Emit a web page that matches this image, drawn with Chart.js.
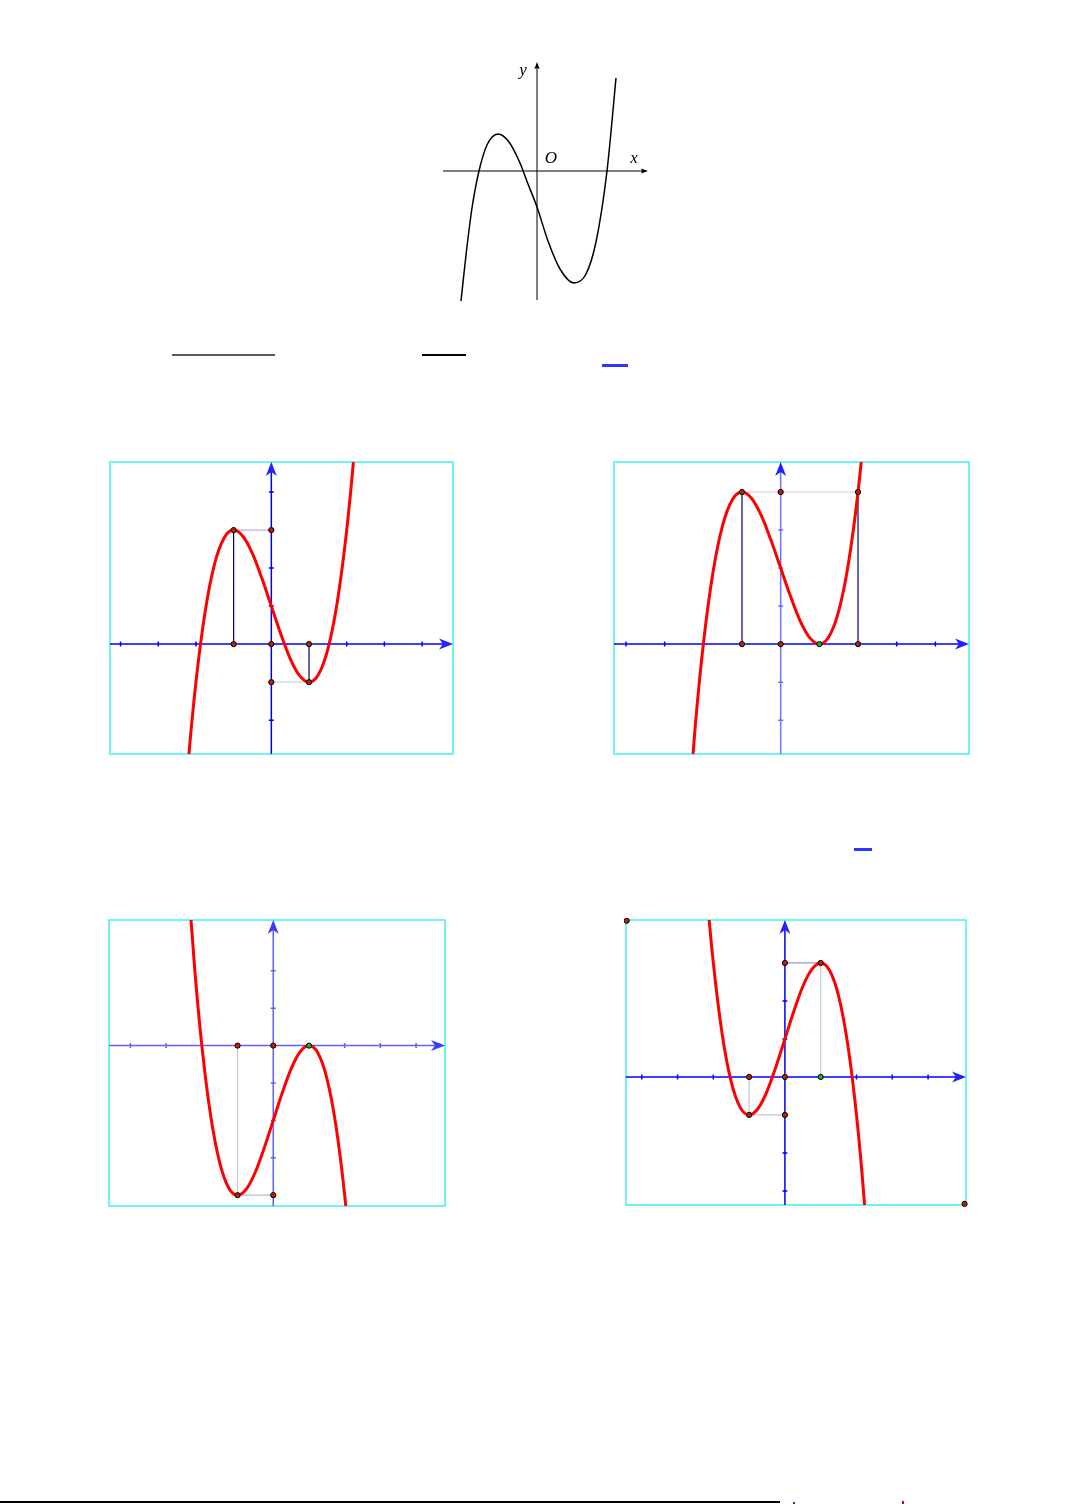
<!DOCTYPE html>
<html>
<head>
<meta charset="utf-8">
<script src="https://cdn.jsdelivr.net/npm/chart.js@4.4.0/dist/chart.umd.min.js"></script>
<style>
  body { margin: 0; background: #fff; width: 1079px; height: 1504px; position: relative; overflow: hidden; }
  canvas { position: absolute; }
  .bar { position: absolute; }
</style>
</head>
<body>
<canvas id="g0" width="218" height="252" style="left:438px;top:55px"></canvas>
<canvas id="g1" width="347" height="296" style="left:108px;top:460px"></canvas>
<canvas id="g2" width="359" height="296" style="left:612px;top:460px"></canvas>
<canvas id="g3" width="340" height="290" style="left:107px;top:918px"></canvas>
<canvas id="g4" width="344" height="289" style="left:624px;top:918px"></canvas>

<div class="bar" style="left:172px;top:354px;width:103px;height:2px;background:#5a5a5a"></div>
<div class="bar" style="left:422px;top:354px;width:44px;height:2px;background:#000"></div>
<div class="bar" style="left:602px;top:364px;width:26px;height:3px;background:#3333ff"></div>
<div class="bar" style="left:854px;top:848px;width:18px;height:3px;background:#3333ff"></div>
<div class="bar" style="left:0;top:1501px;width:780px;height:2px;background:#000"></div>
<div class="bar" style="left:793px;top:1502px;width:2px;height:2px;background:#3030c0"></div>
<div class="bar" style="left:902px;top:1501px;width:2px;height:3px;background:#a01010"></div>

<script>
// top sketch (units of 20px, origin at O)
const sketchX = [-3.8, -3.55, -3.25, -2.9, -2.5, -1.95, -1.4, -0.85, -0.45, 0, 0.55, 1.15, 1.85, 2.45, 2.95, 3.5, 3.95];
const sketchY = [-6.5, -4.2, -1.85, 0, 1.3, 1.85, 1.45, 0.4, -0.65, -1.8, -3.5, -4.9, -5.6, -5.15, -3.55, 0, 4.65];

// the four cubic graphs
const cubicX = [-2.4, -2.2, -2, -1.75, -1.5, -1.25, -1, -0.75, -0.5, -0.25, 0, 0.25, 0.5, 0.75, 1, 1.25, 1.5, 1.75, 2, 2.2, 2.4];
const curveA = [-5.62, -3.05, -1, 0.89, 2.13, 2.8, 3, 2.83, 2.38, 1.73, 1, 0.27, -0.38, -0.83, -1, -0.8, -0.13, 1.11, 3, 5.05, 7.62];
const curveB = [-4.62, -2.05, 0, 1.89, 3.13, 3.8, 4, 3.83, 3.38, 2.73, 2, 1.27, 0.62, 0.17, 0, 0.2, 0.87, 2.11, 4, 6.05, 8.62];
const curveC = [4.62, 2.05, 0, -1.89, -3.13, -3.8, -4, -3.83, -3.38, -2.73, -2, -1.27, -0.62, -0.17, 0, -0.2, -0.87, -2.11, -4, -6.05, -8.62];
const curveD = [7.62, 5.05, 3, 1.11, -0.13, -0.8, -1, -0.83, -0.38, 0.27, 1, 1.73, 2.38, 2.83, 3, 2.8, 2.13, 0.89, -1, -3.05, -5.62];

// marked points
const marksA = [[-1, 3], [0, 3], [-1, 0], [0, 0], [1, 0], [1, -1], [0, -1]];
const marksB = [[-1, 4], [0, 4], [2, 4], [-1, 0], [0, 0], [2, 0]];
const marksC = [[-1, 0], [0, 0], [-1, -4], [0, -4]];
const marksD = [[0, 3], [1, 3], [-1, 0], [0, 0], [-1, -1], [0, -1], [-4.42, 4.11], [5.02, -3.34]];
const greenB = [[1, 0]];
const greenC = [[1, 0]];
const greenD = [[1, 0]];

// guide segments [x1, y1, x2, y2]
const guidesA = [[-1, 0, -1, 3], [-1, 3, 0, 3], [1, 0, 1, -1], [0, -1, 1, -1]];
const guidesB = [[-1, 0, -1, 4], [2, 0, 2, 4], [-1, 4, 2, 4]];
const guidesC = [[-1, 0, -1, -4], [-1, -4, 0, -4]];
const guidesD = [[0, 3, 1, 3], [1, 0, 1, 3], [-1, 0, -1, -1], [-1, -1, 0, -1]];

// tick values
const ticksX = [-4, -3, -2, -1, 1, 2, 3, 4];
const ticksYA = [-2, -1, 1, 2, 3, 4];
const ticksYC = [-4, -3, -2, -1, 1, 2];
const ticksYD = [-3, -2, -1, 1, 2, 3];

const pts = (xs, ys) => xs.map((x, i) => ({ x: x, y: ys[i] }));
const toPts = arr => arr.map(p => ({ x: p[0], y: p[1] }));

function arrowHead(ctx, tx, ty, dir, len, half, notch) {
  ctx.save();
  ctx.translate(tx, ty);
  if (dir === 'up') ctx.rotate(-Math.PI / 2);
  ctx.beginPath();
  ctx.moveTo(0, 0);
  ctx.lineTo(-len, -half);
  ctx.lineTo(-len + notch, 0);
  ctx.lineTo(-len, half);
  ctx.closePath();
  ctx.fill();
  ctx.restore();
}

function axesPlugin(cfg) {
  return {
    id: 'mathAxes',
    beforeDatasetsDraw(chart) {
      const { ctx, chartArea: a, scales: { x, y } } = chart;
      const x0 = x.getPixelForValue(0), y0 = y.getPixelForValue(0);
      const l = x.getPixelForValue(cfg.xFrom), r = x.getPixelForValue(cfg.xTo);
      const b = y.getPixelForValue(cfg.yFrom), t = y.getPixelForValue(cfg.yTo);
      ctx.save();
      if (cfg.frame) {
        ctx.strokeStyle = '#45f0f0';
        ctx.lineWidth = 1.5;
        ctx.strokeRect(a.left, a.top, a.right - a.left, a.bottom - a.top);
      }
      ctx.lineWidth = cfg.width;
      // x axis
      ctx.strokeStyle = cfg.xColor;
      ctx.beginPath();
      ctx.moveTo(l, y0);
      ctx.lineTo(r - 3, y0);
      (cfg.ticksX || []).forEach(v => {
        const p = x.getPixelForValue(v);
        ctx.moveTo(p, y0 - 2.5);
        ctx.lineTo(p, y0 + 2.5);
      });
      ctx.stroke();
      // y axis
      ctx.strokeStyle = cfg.yColor;
      ctx.beginPath();
      ctx.moveTo(x0, b);
      ctx.lineTo(x0, t + 3);
      (cfg.ticksY || []).forEach(v => {
        const p = y.getPixelForValue(v);
        ctx.moveTo(x0 - 2.5, p);
        ctx.lineTo(x0 + 2.5, p);
      });
      ctx.stroke();
      ctx.fillStyle = cfg.headColor;
      arrowHead(ctx, r, y0, 'right', cfg.head[0], cfg.head[1], cfg.head[2]);
      arrowHead(ctx, x0, t, 'up', cfg.head[0], cfg.head[1], cfg.head[2]);
      ctx.restore();
    },
    afterDatasetsDraw(chart) {
      const { ctx, scales: { x, y } } = chart;
      ctx.save();
      (cfg.labels || []).forEach(lb => {
        ctx.font = 'italic 17px "Liberation Serif", "DejaVu Serif", serif';
        ctx.fillStyle = '#000';
        ctx.textAlign = 'center';
        ctx.textBaseline = 'middle';
        ctx.fillText(lb[0], x.getPixelForValue(lb[1]), y.getPixelForValue(lb[2]));
      });
      ctx.restore();
    }
  };
}

function graph(id, range, curve, marks, green, guides, guideColors, axes, pad) {
  const datasets = [];
  datasets.push({
    data: toPts(marks), showLine: false, pointRadius: 2.6, pointBackgroundColor: '#c42000',
    pointBorderColor: '#000', pointBorderWidth: 1, order: 0, clip: 4
  });
  if (green) datasets.push({
    data: toPts(green), showLine: false, pointRadius: 2.6, pointBackgroundColor: '#20b020',
    pointBorderColor: '#000', pointBorderWidth: 1, order: 0, clip: 4
  });
  datasets.push({
    data: curve, showLine: true, pointRadius: 0, borderColor: curve.color || '#ff0000',
    borderWidth: curve.width || 3, cubicInterpolationMode: 'monotone', order: 1
  });
  guides.forEach((g, i) => datasets.push({
    data: [{ x: g[0], y: g[1] }, { x: g[2], y: g[3] }], showLine: true, pointRadius: 0,
    borderColor: guideColors[i], borderWidth: 1.2, order: 2
  }));
  new Chart(document.getElementById(id), {
    type: 'scatter',
    data: { datasets: datasets },
    options: {
      responsive: false,
      animation: false,
      devicePixelRatio: 1,
      layout: { padding: pad, autoPadding: false },
      plugins: { legend: { display: false }, tooltip: { enabled: false } },
      scales: {
        x: { type: 'linear', display: false, min: range[0], max: range[1] },
        y: { type: 'linear', display: false, min: range[2], max: range[3] }
      }
    },
    plugins: [axesPlugin(axes)]
  });
}

// top sketch
const sketch = pts(sketchX, sketchY);
sketch.color = '#000';
sketch.width = 1.5;
graph('g0', [-4.95, 5.95, -6.8, 5.8], sketch, [], null, [], [], {
  xFrom: -4.7, xTo: 5.55, yFrom: -6.45, yTo: 5.45, width: 1, xColor: '#000', yColor: '#000',
  headColor: '#000', head: [7, 2.6, 1], frame: false,
  labels: [['y', -0.7, 5.0], ['O', 0.7, 0.6], ['x', 4.85, 0.6]]
}, 0);

const blue = '#0000ff', paleBlue = '#7070ff';
const navy = '#00006a', pale = '#c8c8e2';

graph('g1', [-4.28, 4.82, -2.89, 4.79], pts(cubicX, curveA), marksA, null, guidesA,
  [navy, '#b4b4d8', navy, '#cfcfe6'], {
    xFrom: -4.28, xTo: 4.82, yFrom: -2.89, yTo: 4.79, width: 1.5, xColor: blue, yColor: blue,
    headColor: '#2222ff', head: [14, 5.5, 4], frame: true, ticksX: ticksX, ticksY: ticksYA
  }, 2);

graph('g2', [-4.31, 4.87, -2.89, 4.79], pts(cubicX, curveB), marksB, greenB, guidesB,
  [navy, navy, '#d4d4ec'], {
    xFrom: -4.31, xTo: 4.87, yFrom: -2.89, yTo: 4.79, width: 1.5, xColor: blue, yColor: paleBlue,
    headColor: '#2222ff', head: [14, 5.5, 4], frame: true, ticksX: ticksX, ticksY: ticksYA
  }, 2);

graph('g3', [-4.6, 4.81, -4.29, 3.36], pts(cubicX, curveC), marksC, greenC, guidesC,
  [pale, '#b8b8d8'], {
    xFrom: -4.6, xTo: 4.81, yFrom: -4.29, yTo: 3.36, width: 1.5, xColor: '#6060ff', yColor: '#6060ff',
    headColor: '#3a3aff', head: [14, 5.5, 4], frame: true, ticksX: ticksX, ticksY: ticksYC
  }, 2);

graph('g4', [-4.44, 5.06, -3.37, 4.13], pts(cubicX, curveD), marksD, greenD, guidesD,
  ['#9a9abd', pale, pale, pale], {
    xFrom: -4.44, xTo: 5.06, yFrom: -3.37, yTo: 4.13, width: 1.5, xColor: blue, yColor: blue,
    headColor: '#2222ff', head: [14, 5.5, 4], frame: true, ticksX: ticksX, ticksY: ticksYD
  }, 2);
</script>
</body>
</html>
